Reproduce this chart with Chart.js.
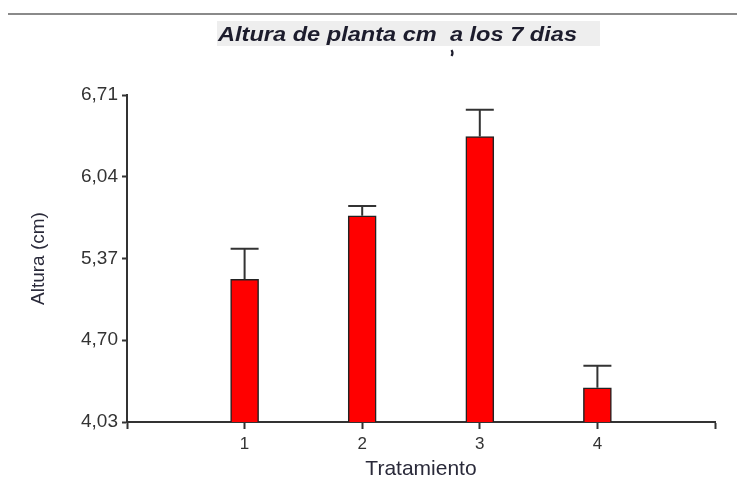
<!DOCTYPE html>
<html>
<head>
<meta charset="utf-8">
<script src="https://cdn.jsdelivr.net/npm/chart.js@4.4.1/dist/chart.umd.min.js"></script>
<style>
  html, body { margin: 0; padding: 0; background: #ffffff; }
  #wrap { width: 737px; height: 480px; }
</style>
</head>
<body>
<div id="wrap"><canvas id="c" width="737" height="480"></canvas></div>
<script>
// Plant height (cm) at 7 days, by treatment
const categories = ['1', '2', '3', '4'];
const meanHeight = [5.20, 5.72, 6.37, 4.31];
const stdError = [0.25, 0.08, 0.22, 0.18];
const yTicks = [4.03, 4.70, 5.37, 6.04, 6.71];
const chartTitle = 'Altura de planta cm  a los 7 dias';

// Empty slots at both ends so the treatments sit inside a wider axis
const axisLabels = [''].concat(categories, ['']);
const barValues = [null].concat(meanHeight, [null]);
const errValues = [null].concat(stdError, [null]);

const FONT = "'Liberation Sans', Arial, sans-serif";
const AXIS = '#333333';

const frame = {
  id: 'frame',
  beforeDraw(chart) {
    const ctx = chart.ctx;
    ctx.save();
    ctx.fillStyle = '#ffffff';
    ctx.fillRect(0, 0, chart.width, chart.height);
    // rule across the top
    ctx.strokeStyle = '#8a8a8a';
    ctx.lineWidth = 2;
    ctx.beginPath();
    ctx.moveTo(8, 14);
    ctx.lineTo(chart.width, 14);
    ctx.stroke();
    // title box
    ctx.fillStyle = '#eeeeee';
    ctx.fillRect(217, 21, 383, 25);
    ctx.fillStyle = '#1c1c2c';
    ctx.font = 'italic bold 21px ' + FONT;
    ctx.textBaseline = 'alphabetic';
    ctx.textAlign = 'left';
    const w = ctx.measureText(chartTitle).width;
    ctx.translate(218, 41);
    ctx.scale(359 / w, 1);
    ctx.fillText(chartTitle, 0, 0);
    ctx.restore();
    // small stray mark under the title
    ctx.save();
    ctx.strokeStyle = '#1c1c2c';
    ctx.lineWidth = 2.2;
    ctx.beginPath();
    ctx.moveTo(451.5, 50);
    ctx.quadraticCurveTo(453.5, 53, 451.5, 56);
    ctx.stroke();
    ctx.restore();
  }
};

const errorBars = {
  id: 'errorBars',
  afterDatasetsDraw(chart) {
    const ctx = chart.ctx;
    const meta = chart.getDatasetMeta(0);
    const y = chart.scales.y;
    ctx.save();
    ctx.strokeStyle = AXIS;
    ctx.lineWidth = 2;
    meta.data.forEach((bar, i) => {
      const m = barValues[i];
      const e = errValues[i];
      if (m == null || e == null) return;
      const x = bar.x;
      const y0 = y.getPixelForValue(m);
      const y1 = y.getPixelForValue(m + e);
      const half = 14;
      ctx.beginPath();
      ctx.moveTo(x, y0);
      ctx.lineTo(x, y1);
      ctx.moveTo(x - half, y1);
      ctx.lineTo(x + half, y1);
      ctx.stroke();
    });
    ctx.restore();
  }
};

new Chart(document.getElementById('c'), {
  type: 'bar',
  data: {
    labels: axisLabels,
    datasets: [{
      data: barValues,
      backgroundColor: '#ff0000',
      borderColor: '#222222',
      borderWidth: 1.5,
      barThickness: 28
    }]
  },
  options: {
    responsive: false,
    animation: false,
    layout: { padding: { top: 95, right: 22, left: 0, bottom: 0 } },
    plugins: {
      legend: { display: false },
      tooltip: { enabled: false },
      title: { display: false }
    },
    scales: {
      x: {
        offset: false,
        grid: {
          display: true,
          offset: false,
          drawOnChartArea: false,
          drawTicks: true,
          tickLength: 7,
          tickWidth: 2,
          tickColor: AXIS
        },
        border: { display: true, color: AXIS, width: 2 },
        ticks: {
          color: '#333333',
          font: { family: FONT, size: 17 },
          padding: 5,
          maxRotation: 0,
          autoSkip: false
        },
        title: {
          display: true,
          text: 'Tratamiento',
          color: '#2a2a3a',
          font: { family: FONT, size: 21, lineHeight: 1.0 },
          padding: { top: 0, bottom: 0 }
        },
        afterFit(scale) { scale.height = 58; }
      },
      y: {
        min: 4.03,
        max: 6.71,
        afterBuildTicks(scale) {
          scale.ticks = yTicks.map(v => ({ value: v }));
        },
        grid: {
          display: true,
          drawOnChartArea: false,
          drawTicks: true,
          tickLength: 5,
          tickWidth: 2,
          tickColor: AXIS
        },
        border: { display: true, color: AXIS, width: 2 },
        ticks: {
          color: '#333333',
          font: { family: FONT, size: 19 },
          padding: 4,
          callback: (v) => Number(v).toFixed(2).replace('.', ',')
        },
        title: {
          display: true,
          text: 'Altura (cm)',
          color: '#2a2a3a',
          font: { family: FONT, size: 19 },
          padding: { top: 27, bottom: 0 }
        },
        afterFit(scale) { scale.width = 127; }
      }
    }
  },
  plugins: [frame, errorBars]
});
</script>
</body>
</html>
